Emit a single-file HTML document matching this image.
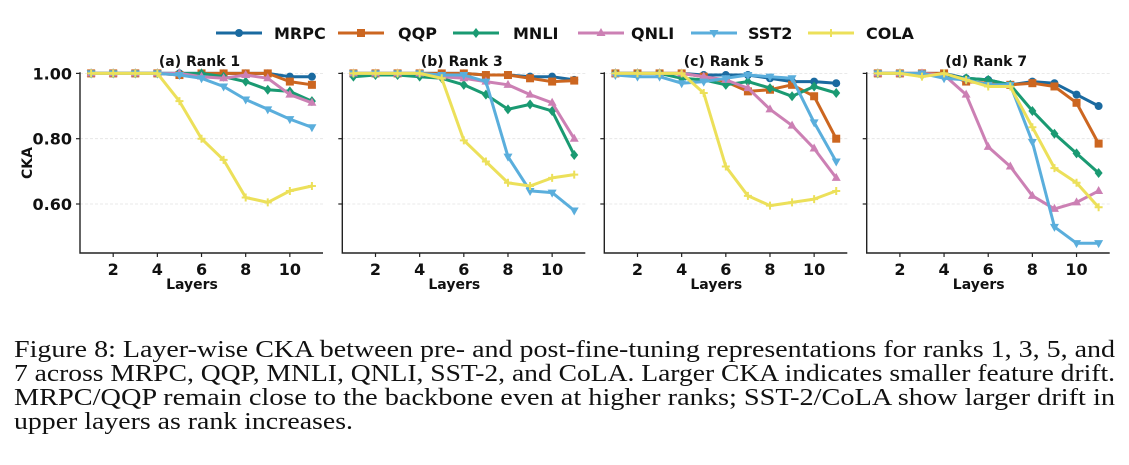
<!DOCTYPE html>
<html><head><meta charset="utf-8"><style>
body{margin:0;background:#fff;width:1129px;height:465px;overflow:hidden}
svg{display:block}
</style></head><body>
<svg id="fig" width="1129" height="465" xmlns="http://www.w3.org/2000/svg"></svg>
<script>
const layers=[1,2,3,4,5,6,7,8,9,10,11];
const seriesNames=["MRPC","QQP","MNLI","QNLI","SST2","COLA"];
const panelTitles=["(a) Rank 1","(b) Rank 3","(c) Rank 5","(d) Rank 7"];
const yTicks=[1.0,0.8,0.6];
const yTickLabels=["1.00","0.80","0.60"];
const xTicks=[2,4,6,8,10];
const rank1={
MRPC:[1,1,1,1,1,1,1,1,1,0.99,0.99],
QQP:[1,1,1,1,0.995,1,1,1,1,0.975,0.965],
MNLI:[1,1,1,1,1,1,0.99,0.975,0.95,0.945,0.915],
QNLI:[1,1,1,1,1,0.99,0.985,0.995,0.985,0.935,0.91],
SST2:[1,1,1,1,0.995,0.985,0.96,0.92,0.89,0.86,0.835],
COLA:[1,1,1,1,0.915,0.80,0.735,0.62,0.605,0.64,0.655]};
const rank3={
MRPC:[1,1,1,1,1,1,0.995,0.995,0.99,0.99,0.98],
QQP:[1,1,1,1,1,1,0.995,0.995,0.985,0.975,0.978],
MNLI:[0.99,0.995,0.995,0.99,0.985,0.965,0.935,0.89,0.905,0.885,0.75],
QNLI:[1,1,1,1,0.99,0.985,0.975,0.965,0.935,0.91,0.80],
SST2:[1,1,1,1,0.995,0.995,0.975,0.745,0.64,0.635,0.58],
COLA:[1,1,1,1,0.985,0.795,0.73,0.665,0.655,0.68,0.69]};
const rank5={
MRPC:[1,1,1,1,0.995,0.995,0.995,0.985,0.975,0.975,0.97],
QQP:[1,1,1,1,0.99,0.975,0.945,0.95,0.965,0.93,0.80],
MNLI:[1,1,1,0.985,0.98,0.965,0.975,0.955,0.93,0.96,0.94],
QNLI:[1,1,1,1,0.99,0.98,0.955,0.89,0.84,0.77,0.68],
SST2:[0.995,0.99,0.99,0.97,0.975,0.985,0.995,0.99,0.985,0.85,0.73],
COLA:[1,1,1,1,0.94,0.715,0.625,0.595,0.605,0.615,0.64]};
const rank7={
MRPC:[1,1,1,1,0.985,0.98,0.965,0.975,0.97,0.935,0.90],
QQP:[1,1,1,1,0.975,0.97,0.965,0.97,0.96,0.91,0.785],
MNLI:[1,1,0.995,0.995,0.985,0.98,0.965,0.885,0.815,0.755,0.695],
QNLI:[1,1,1,0.995,0.935,0.775,0.715,0.625,0.585,0.605,0.64],
SST2:[1,1,1,0.985,0.98,0.965,0.965,0.79,0.53,0.48,0.48],
COLA:[1,1,0.99,1,0.98,0.96,0.96,0.835,0.71,0.665,0.59]};
const panels=[rank1,rank3,rank5,rank7];
const colors={MRPC:"#1a6aa0",QQP:"#cc6620",MNLI:"#1a9a72",QNLI:"#cc80b4",SST2:"#5aaedc",COLA:"#ece05a"};
const markers={MRPC:"circle",QQP:"square",MNLI:"diamond",QNLI:"tri",SST2:"trid",COLA:"plus"};

const NS="http://www.w3.org/2000/svg";
const svg=document.getElementById('fig');
function mk(tag,attrs,parent){const e=document.createElementNS(NS,tag);for(const k in attrs)e.setAttribute(k,attrs[k]);(parent||svg).appendChild(e);return e;}
const panelLeft=[80,342.3,604.3,866.7];
const axW=243, yTop=73.3, yBot=253;
function yScale(v){return 204+(0.6-v)/0.2*65.3;}
function xScale(p,l){return panelLeft[p]+33.2+(l-2)*22.08;}
const F='"DejaVu Sans","Liberation Sans",sans-serif';
function marker(g,type,x,y,c){
  let m;
  if(type==="circle")m=mk('circle',{cx:x,cy:y,r:4,fill:c},g);
  else if(type==="square")m=mk('rect',{x:x-4,y:y-4,width:8,height:8,fill:c},g);
  else if(type==="diamond")m=mk('polygon',{points:`${x},${y-5} ${x+4},${y} ${x},${y+5} ${x-4},${y}`,fill:c},g);
  else if(type==="tri")m=mk('polygon',{points:`${x},${y-5} ${x+4.5},${y+3} ${x-4.5},${y+3}`,fill:c},g);
  else if(type==="trid")m=mk('polygon',{points:`${x},${y+5} ${x+4.5},${y-3} ${x-4.5},${y-3}`,fill:c},g);
  else m=mk('path',{d:`M${x-4} ${y}H${x+4}M${x} ${y-4}V${y+4}`,stroke:c,'stroke-width':2},g);
  return m;
}
panels.forEach((data,p)=>{
  const g=mk('g',{});
  
  
  const L=panelLeft[p];
  yTicks.forEach((t,i)=>{
    const y=yScale(t);
    const gl=mk('line',{x1:L,x2:L+axW,y1:y,y2:y,stroke:"#e2e2e2","stroke-width":0.8,"stroke-dasharray":"3,2"},g);
    
    
    mk('line',{x1:L-4,x2:L,y1:y,y2:y,stroke:"#222","stroke-width":1.2},g);
    if(p===0){
      const tl=mk('text',{x:L-8,y:y+6,'text-anchor':'end','font-family':F,'font-weight':'bold','font-size':16,fill:'#111'},g);
      tl.textContent=yTickLabels[i];
      
      
    }
  });
  xTicks.forEach(t=>{
    const x=xScale(p,t);
    mk('line',{x1:x,x2:x,y1:yBot,y2:yBot+4,stroke:"#222","stroke-width":1.2},g);
    const tl=mk('text',{x:x,y:yBot+22,'text-anchor':'middle','font-family':F,'font-weight':'bold','font-size':16,fill:'#111'},g);
    tl.textContent=t;
    
    
  });
  const ax=mk('path',{d:`M${L} ${yTop-1}V${yBot}H${L+axW}`,fill:'none',stroke:'#222','stroke-width':1.4},g);
  
  
  const tt=mk('text',{x:L+axW/2-2,y:66,'text-anchor':'middle','font-family':F,'font-weight':'bold','font-size':14,fill:'#111'},g);
  tt.textContent=panelTitles[p];
  
  
  const xl=mk('text',{x:L+112,y:289,'text-anchor':'middle','font-family':F,'font-weight':'bold','font-size':14,fill:'#111'},g);
  xl.textContent="Layers";
  
  
  seriesNames.forEach(s=>{
    const vals=data[s];
    const pts=vals.map((v,i)=>xScale(p,layers[i]).toFixed(1)+","+yScale(v).toFixed(1)).join(" ");
    const sg=mk('g',{},g);
    
    
    mk('polyline',{points:pts,fill:'none',stroke:colors[s],'stroke-width':3,'stroke-linejoin':'round'},sg);
    vals.forEach((v,i)=>{
      const m=marker(sg,markers[s],xScale(p,layers[i]),yScale(v),colors[s]);
      
      
    });
  });
});
const yl=mk('text',{x:0,y:0,transform:'translate(32,163) rotate(-90)','text-anchor':'middle','font-family':F,'font-weight':'bold','font-size':14,fill:'#111'});
yl.textContent="CKA";


// legend
const legLine=[216,338,453,578,691,808];
const legText=[274,398,513,631,748,866];
seriesNames.forEach((s,i)=>{
  const g=mk('g',{});
  
  
  mk('line',{x1:legLine[i],x2:legLine[i]+46,y1:33,y2:33,stroke:colors[s],'stroke-width':3},g);
  marker(g,markers[s],legLine[i]+23,33,colors[s]);
  const t=mk('text',{x:legText[i],y:39,'font-family':F,'font-weight':'bold','font-size':16,fill:'#111'},g);
  t.textContent=s;
});
// caption
const cap=["Figure 8: Layer-wise CKA between pre- and post-fine-tuning representations for ranks 1, 3, 5, and",
"7 across MRPC, QQP, MNLI, QNLI, SST-2, and CoLA. Larger CKA indicates smaller feature drift.",
"MRPC/QQP remain close to the backbone even at higher ranks; SST-2/CoLA show larger drift in",
"upper layers as rank increases."];
const capW=[1101,1101,1101,339];
const capY=[357,381,405,429];
cap.forEach((c,i)=>{
  const t=mk('text',{x:14,y:capY[i],textLength:capW[i],lengthAdjust:'spacingAndGlyphs','font-family':'"Liberation Serif",serif','font-size':24,fill:'#111'});
  t.textContent=c;
  
  
});
</script>
</body></html>
